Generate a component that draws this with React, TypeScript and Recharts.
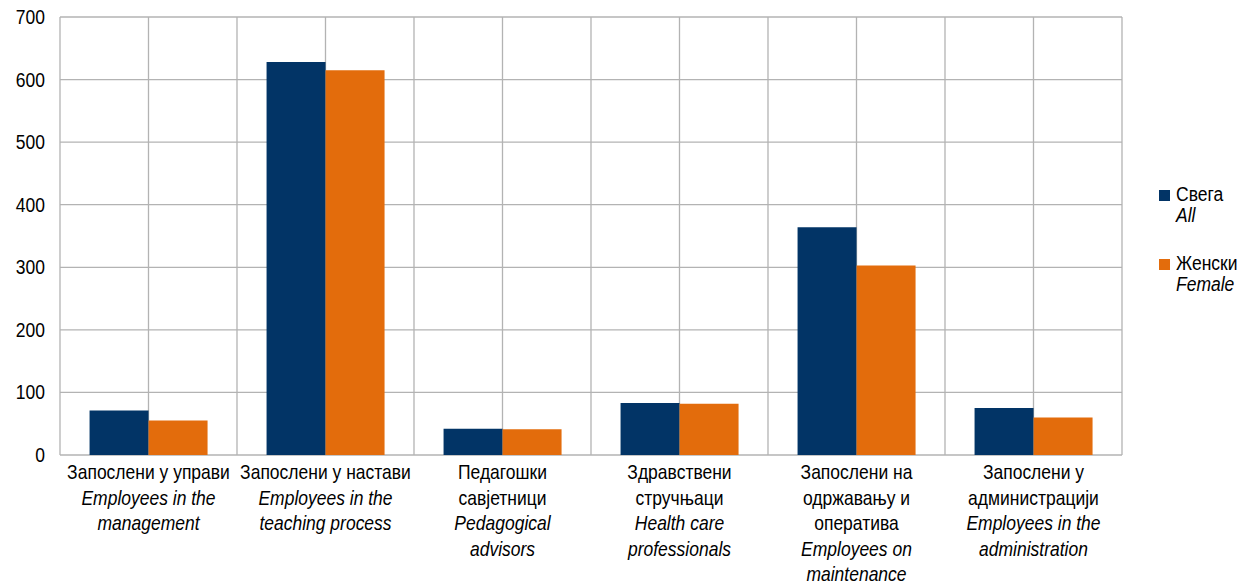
import React from "react"
import { Bar, BarChart, CartesianGrid, XAxis, YAxis } from "recharts"

const categoriesSr = [
  ["Запослени у управи"],
  ["Запослени у настави"],
  ["Педагошки", "савјетници"],
  ["Здравствени", "стручњаци"],
  ["Запослени на", "одржавању и", "оператива"],
  ["Запослени у", "администрацији"],
]

const categoriesEn = [
  ["Employees in the", "management"],
  ["Employees in the", "teaching process"],
  ["Pedagogical", "advisors"],
  ["Health care", "professionals"],
  ["Employees on", "maintenance"],
  ["Employees in the", "administration"],
]

const totalValues = [71, 628, 42, 83, 364, 75]
const femaleValues = [55, 615, 41, 82, 303, 60]
const yTicks = [0, 100, 200, 300, 400, 500, 600, 700]

const seriesSr = ["Свега", "Женски"]
const seriesEn = ["All", "Female"]

const BLUE = "#023466"
const ORANGE = "#E36C0C"
const GRID = "#b3b3b3"
const FONT = "'Liberation Sans', Arial, sans-serif"

const data = categoriesSr.map((_, i) => ({
  idx: i,
  total: totalValues[i],
  female: femaleValues[i],
}))

function CategoryTick({ x, y, payload }: any) {
  const i = payload.value as number
  const lines = [
    ...categoriesSr[i].map((t) => ({ t, italic: false })),
    ...categoriesEn[i].map((t) => ({ t, italic: true })),
  ]
  return (
    <text
      x={x}
      y={y}
      textAnchor="middle"
      fontFamily={FONT}
      fontSize={17.5}
      fill="#000"
      transform={`translate(0 ${y}) scale(1 1.12) translate(0 ${-y})`}
    >
      {lines.map((l, k) => (
        <tspan key={k} x={x} dy={k === 0 ? 21.5 : 22.8} fontStyle={l.italic ? "italic" : "normal"}>
          {l.t}
        </tspan>
      ))}
    </text>
  )
}

function YTick({ x, y, payload }: any) {
  return (
    <text
      x={x}
      y={y}
      dy="0.36em"
      textAnchor="end"
      fontFamily={FONT}
      fontSize={17.5}
      fill="#000"
      transform={`translate(0 ${y}) scale(1 1.12) translate(0 ${-y})`}
    >
      {payload.value}
    </text>
  )
}

function LegendBox() {
  const colors = [BLUE, ORANGE]
  return (
    <div
      style={{
        position: "absolute",
        left: 1159,
        top: 184,
        fontFamily: FONT,
        fontSize: 17.5,
        color: "#000",
      }}
    >
      {seriesSr.map((name, i) => (
        <div key={name} style={{ position: "relative", height: 69, paddingLeft: 17 }}>
          <div
            style={{
              position: "absolute",
              left: 0,
              top: 6,
              width: 11,
              height: 11,
              background: colors[i],
            }}
          />
          <div style={{ lineHeight: "21px", transform: "scaleY(1.12)", transformOrigin: "left center" }}>{name}</div>
          <div style={{ lineHeight: "21px", fontStyle: "italic", transform: "scaleY(1.12)", transformOrigin: "left center" }}>
            {seriesEn[i]}
          </div>
        </div>
      ))}
    </div>
  )
}

export default function App() {
  return (
    <div style={{ position: "absolute", left: 0, top: 0, width: 1249, height: 586, background: "#fff" }}>
      <BarChart
        width={1249}
        height={586}
        data={data}
        margin={{ top: 17, right: 127, bottom: 0, left: 0 }}
        barCategoryGap="16.7%"
        barGap={0}
      >
        <CartesianGrid
          stroke={GRID}
          strokeWidth={1.3}
          verticalCoordinatesGenerator={({ offset }: any) =>
            Array.from({ length: 13 }, (_, k) => offset.left + (offset.width * k) / 12)
          }
        />
        <XAxis
          dataKey="idx"
          height={131}
          axisLine={false}
          tickLine={false}
          tickSize={0}
          tickMargin={0}
          interval={0}
          tick={<CategoryTick />}
        />
        <YAxis
          width={60}
          domain={[0, 700]}
          ticks={yTicks}
          axisLine={false}
          tickLine={false}
          tickSize={0}
          tickMargin={15}
          tick={<YTick />}
        />
        <Bar dataKey="total" fill={BLUE} isAnimationActive={false} />
        <Bar dataKey="female" fill={ORANGE} isAnimationActive={false} />
      </BarChart>
      <LegendBox />
    </div>
  )
}
